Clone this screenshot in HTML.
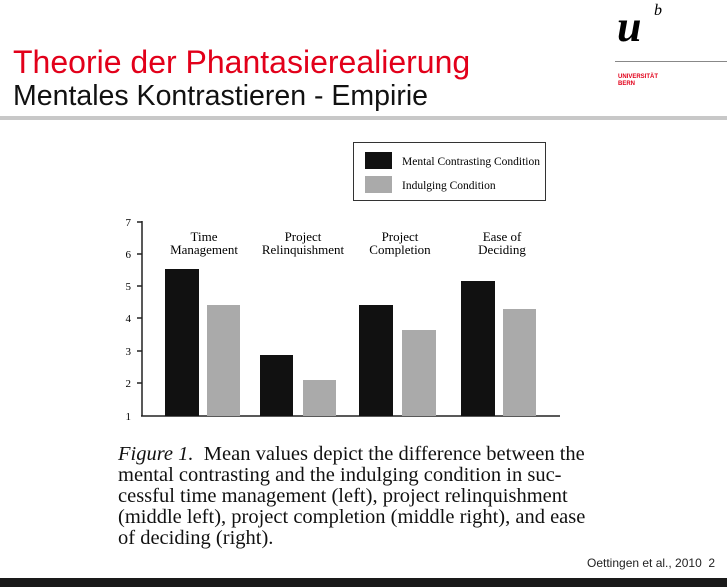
<!DOCTYPE html>
<html><head><meta charset="utf-8"><style>
body{margin:0;width:727px;height:587px;background:#fff;position:relative;overflow:hidden;font-family:"Liberation Sans",sans-serif}
.a{position:absolute;white-space:nowrap}
.cap{font-family:"Liberation Serif",serif;font-size:20.5px;left:118px;color:#111;line-height:21px}
</style></head><body>
<div class="a" style="left:13px;top:44px;font-size:32px;color:#e2001a">Theorie der Phantasierealierung</div>
<div class="a" style="left:13px;top:80px;font-size:28.5px;color:#111">Mentales Kontrastieren - Empirie</div>
<div class="a" style="left:617px;top:5px;font-family:'Liberation Serif',serif;font-style:italic;font-weight:bold;font-size:44px;line-height:44px">u</div>
<div class="a" style="left:654px;top:2px;font-family:'Liberation Serif',serif;font-style:italic;font-size:16px">b</div>
<div class="a" style="left:615px;top:61px;width:112px;height:1px;background:#888"></div>
<div class="a" style="left:618px;top:74px;font-size:6px;font-weight:bold;color:#e2001a;line-height:7px">UNIVERSITÄT<br>BERN</div>
<div class="a" style="left:0;top:116px;width:727px;height:4px;background:#c8c8c8"></div>
<div class="a" style="left:0;top:578px;width:727px;height:9px;background:#1a1a1a"></div>
<svg class="a" style="left:0;top:0" width="727" height="587" font-family="Liberation Serif,serif">
<rect x="353.5" y="142.5" width="192" height="58" fill="#fff" stroke="#333"/>
<rect x="365" y="152" width="27" height="17" fill="#111"/>
<rect x="365" y="176" width="27" height="17" fill="#aaa"/>
<text x="402" y="165" font-size="11.5">Mental Contrasting Condition</text>
<text x="402" y="189" font-size="11.5">Indulging Condition</text>
<line x1="142" y1="221" x2="142" y2="416.5" stroke="#222" stroke-width="1.5"/>
<line x1="141" y1="416" x2="560" y2="416" stroke="#222" stroke-width="1.5"/>
<g stroke="#222" stroke-width="1.5">
<line x1="137" y1="222" x2="142" y2="222"/><line x1="137" y1="254" x2="142" y2="254"/><line x1="137" y1="286" x2="142" y2="286"/><line x1="137" y1="318" x2="142" y2="318"/><line x1="137" y1="351" x2="142" y2="351"/><line x1="137" y1="383" x2="142" y2="383"/></g>
<g font-size="11" text-anchor="end"><text x="131" y="226">7</text><text x="131" y="258">6</text><text x="131" y="290">5</text><text x="131" y="322">4</text><text x="131" y="355">3</text><text x="131" y="387">2</text><text x="131" y="420">1</text></g>
<g fill="#111"><rect x="165" y="269" width="34" height="147"/><rect x="260" y="355" width="33" height="61"/><rect x="359" y="305" width="34" height="111"/><rect x="461" y="281" width="34" height="135"/></g>
<g fill="#aaa"><rect x="207" y="305" width="33" height="111"/><rect x="303" y="380" width="33" height="36"/><rect x="402" y="330" width="34" height="86"/><rect x="503" y="309" width="33" height="107"/></g>
<g font-size="13" text-anchor="middle">
<text x="204" y="241">Time</text><text x="204" y="254">Management</text>
<text x="303" y="241">Project</text><text x="303" y="254">Relinquishment</text>
<text x="400" y="241">Project</text><text x="400" y="254">Completion</text>
<text x="502" y="241">Ease of</text><text x="502" y="254">Deciding</text></g>
</svg>
<div class="a cap" style="top:444px"><i>Figure 1.</i>&nbsp; Mean values depict the difference between the</div>
<div class="a cap" style="top:465px">mental contrasting and the indulging condition in suc-</div>
<div class="a cap" style="top:486px">cessful time management (left), project relinquishment</div>
<div class="a cap" style="top:507px">(middle left), project completion (middle right), and ease</div>
<div class="a cap" style="top:528px">of deciding (right).</div>
<div class="a" style="left:587px;top:556px;font-size:12px;color:#222">Oettingen et al., 2010&nbsp;&nbsp;2</div>
</body></html>
